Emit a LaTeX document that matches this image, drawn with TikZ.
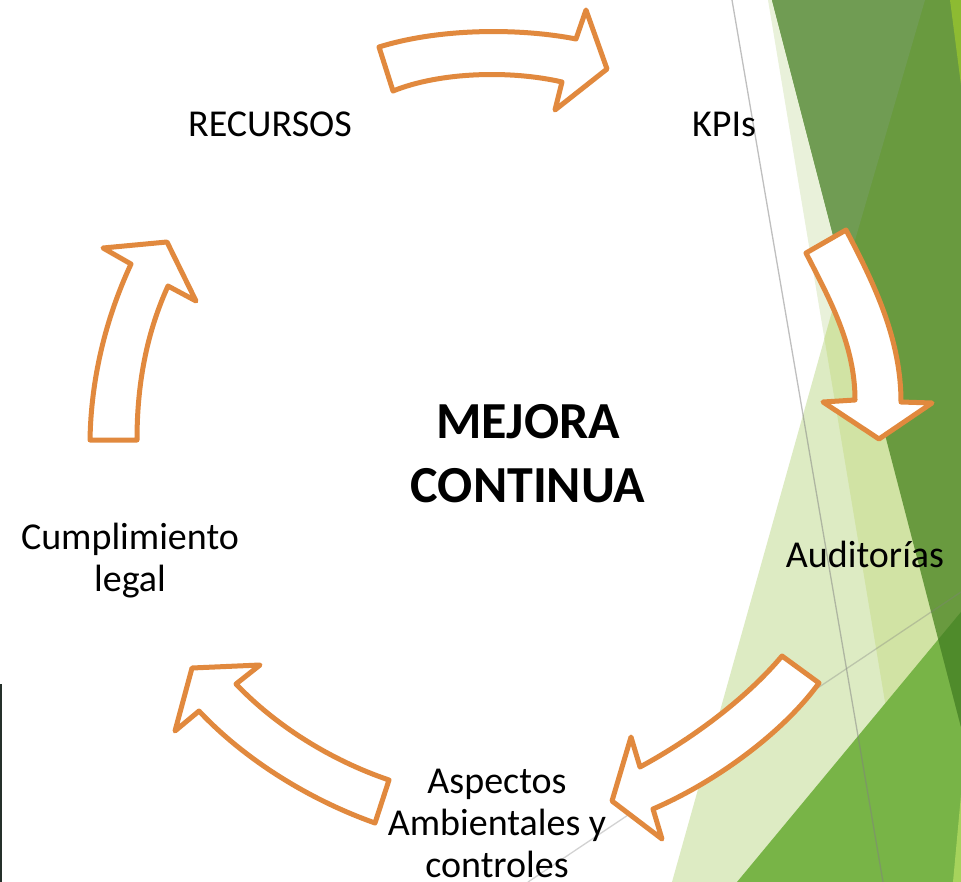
\documentclass[tikz,border=0pt]{standalone}
\usepackage{fontspec}
\setmainfont{Carlito}
\definecolor{orangeline}{HTML}{E1893E}
\definecolor{paleS}{HTML}{E9F1DA}
\definecolor{lightL}{HTML}{DDEBC3}
\definecolor{mixLS}{HTML}{D1E3A4}
\definecolor{darkD}{HTML}{699A3F}
\definecolor{wedgeD}{HTML}{709C53}
\definecolor{medM}{HTML}{78B447}
\definecolor{mixDM}{HTML}{4F8B2B}
\definecolor{brightTop}{HTML}{8DBB32}
\definecolor{brightBot}{HTML}{A6D35C}
\definecolor{darkedge}{HTML}{25302A}
\begin{document}
\begin{tikzpicture}[x=1pt,y=-1pt,
  arrowshape/.style={draw=orangeline, fill=white, line width=5pt, line join=round},
  lbl/.style={font=\fontsize{38}{42}\selectfont, align=center, anchor=base, inner sep=0pt},
  titletext/.style={font=\fontsize{52}{64}\selectfont\bfseries, align=center, anchor=base, inner sep=0pt},
  greyline/.style={line width=1.3pt, black!50}]
\useasboundingbox (0,0) rectangle (961,882);
\fill[white] (0,0) rectangle (961,882);
% background facets
\fill[paleS] (768,0) -- (961,0) -- (961,882) -- (915,882) -- cycle;
\fill[lightL] (897,80) -- (961,80) -- (961,882) -- (672,882) -- cycle;
\begin{scope}
  \clip (897,80) -- (961,80) -- (961,882) -- (672,882) -- cycle;
  \fill[mixLS] (768,0) -- (961,0) -- (961,882) -- (915,882) -- cycle;
\end{scope}
\fill[medM] (737,882) -- (961,612) -- (961,882) -- cycle;
\fill[darkD] (772,0) -- (961,0) -- (961,727) -- cycle;
\fill[wedgeD] (772,0) -- (925,0) -- (844,278) -- cycle;
\begin{scope}
  \clip (737,882) -- (961,612) -- (961,882) -- cycle;
  \fill[mixDM] (772,0) -- (961,0) -- (961,727) -- cycle;
\end{scope}
\fill[brightTop] (950,0) -- (961,0) -- (961,85) -- cycle;
\fill[brightBot] (953,882) -- (961,882) -- (961,795) -- cycle;
\draw[greyline, opacity=0.5] (732,0) -- (883,882);
\draw[greyline, opacity=0.35] (528,882) -- (961,592);
\fill[darkedge] (0,684) rectangle (2,882);
% arrows
\draw[arrowshape] (379,47) .. controls (440,28) and (520,28) .. (576,39)
  -- (586,10) -- (607,69) -- (555,110) -- (562,82)
  .. controls (510,70) and (440,72) .. (393,91) -- cycle;
\draw[arrowshape] (846,230) .. controls (875,285) and (901,340) .. (901,402)
  -- (932,403) -- (879,439) -- (823,402) -- (855,400)
  .. controls (855,345) and (830,300) .. (806,253) -- cycle;
\draw[arrowshape] (819,683) .. controls (785,730) and (720,780) .. (653,809)
  -- (662,839) -- (612,801) -- (631,737) -- (640,767)
  .. controls (690,740) and (745,700) .. (782,656) -- cycle;
\draw[arrowshape] (375,823) .. controls (310,800) and (245,760) .. (199,711)
  -- (175,731) -- (192,668) -- (260,665) -- (236,684)
  .. controls (275,725) and (330,760) .. (389,780) -- cycle;
\draw[arrowshape] (90,440) -- (137,440) .. controls (137,380) and (148,330) .. (168,286)
  -- (196,301) -- (167,242) -- (103,248) -- (131,264)
  .. controls (105,320) and (91,380) .. (90,440) -- cycle;
% labels
\node[lbl] (recursos) at (270,137) {RECURSOS};
\node[lbl] (kpis) at (724,137) {KPIs};
\node[lbl] (audit) at (865,567) {Auditorías};
\node[lbl] (aspectos) at (497,877) {Aspectos\\Ambientales y\\controles};
\node[lbl] (cumpl) at (130,591) {Cumplimiento\\legal};
\node[titletext] (mejora) at (528,502) {MEJORA\\CONTINUA};
\end{tikzpicture}
\end{document}
